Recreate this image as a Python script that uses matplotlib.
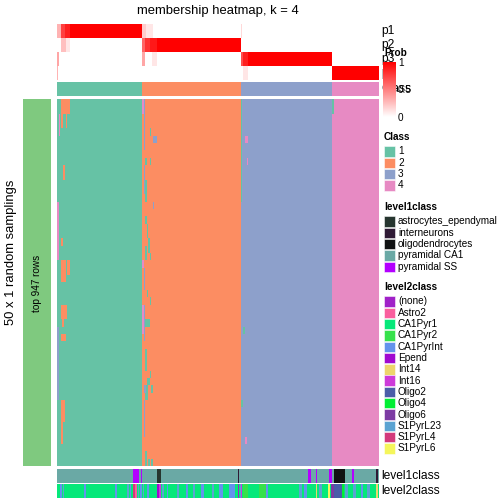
import numpy as np
import matplotlib
matplotlib.use("Agg")
import matplotlib.pyplot as plt
from matplotlib.colors import ListedColormap, LinearSegmentedColormap
from matplotlib.patches import Rectangle

plt.rcParams['font.family'] = ['Liberation Sans', 'DejaVu Sans']

W = H = 504

# consensus classes, number of samples (columns) in each
class_sizes = [85, 99, 91, 47]
class_colors = ["#66C2A5", "#FC8D62", "#8DA0CB", "#E78AC3"]
class_names = ["1", "2", "3", "4"]

# membership probabilities, segments (col_start, col_end, value), rest = 0
p1_segments = [(0, 4, 0.3), (4, 8, 0.75), (8, 13, 0.88), (13, 85, 1.0),
               (85, 89, 0.2), (89, 96, 0.1), (184, 185, 0.15)]
p2_segments = [(4, 9, 0.25), (9, 13, 0.1), (85, 88, 0.6), (88, 93, 0.8),
               (93, 100, 0.9), (100, 184, 1.0)]
p3_segments = [(0, 2, 0.35), (85, 88, 0.35), (95, 100, 0.1),
               (184, 186, 0.7), (186, 191, 0.88), (191, 275, 1.0)]
p4_segments = [(0, 1, 0.3), (186, 191, 0.1), (275, 322, 1.0)]

# 50 random samplings: class calls that differ from the consensus
# (row_start, row_end, col_start, col_end, class)
deviations = [
    (0, 2, 4, 13, 2), (2, 4, 4, 6, 2), (2, 4, 9, 10, 2), (2, 5, 2, 3, 4),
    (9, 11, 6, 8, 2), (14, 22, 0, 2, 4), (19, 20, 4, 6, 2), (22, 25, 4, 9, 2),
    (22, 24, 10, 13, 2), (28, 30, 4, 10, 2), (30, 31, 5, 7, 2), (32, 33, 4, 9, 2),
    (31, 41, 0, 2, 3), (41, 44, 4, 8, 2), (44, 47, 4, 6, 2),
    (0, 2, 85, 87, 4), (0, 4, 87, 88, 3), (4, 7, 87, 88, 3), (4, 5, 93, 94, 1),
    (5, 6, 96, 100, 3), (8, 9, 88, 90, 1), (8, 9, 93, 94, 1), (9, 13, 87, 88, 3),
    (11, 14, 88, 90, 1), (14, 15, 96, 97, 3), (16, 17, 88, 90, 1),
    (17, 19, 90, 91, 1), (19, 21, 91, 93, 1), (20, 22, 88, 90, 1),
    (21, 22, 93, 94, 1), (22, 23, 85, 87, 4), (23, 26, 87, 88, 3),
    (26, 27, 90, 91, 1), (27, 28, 93, 94, 1), (28, 32, 85, 87, 4),
    (28, 32, 87, 88, 3), (30, 31, 88, 93, 1), (32, 33, 87, 88, 3),
    (34, 37, 88, 90, 1), (37, 38, 93, 94, 1), (38, 39, 90, 93, 1),
    (39, 40, 87, 89, 3), (39, 40, 89, 91, 1), (39, 40, 94, 96, 1),
    (40, 41, 88, 91, 1), (41, 46, 87, 88, 3), (48, 50, 88, 90, 1),
    (49, 50, 91, 93, 1), (49, 50, 94, 96, 1),
    (0, 14, 184, 185, 1), (5, 6, 188, 191, 4), (8, 9, 190, 191, 4),
    (31, 32, 186, 188, 1), (41, 42, 184, 186, 1), (46, 47, 188, 190, 4),
    (0, 2, 275, 277, 1),
]
n_samplings = 50

level1_names = ["astrocytes_ependymal", "interneurons", "oligodendrocytes",
                "pyramidal CA1", "pyramidal SS"]
level1_colors = ["#26352F", "#2F1A35", "#111213", "#6AA9A5", "#B300FF"]
level1_default = "pyramidal CA1"
level1_segments = [
    (76, 82, "pyramidal SS"), (84, 85, "pyramidal SS"),
    (100, 104, "astrocytes_ependymal"), (181, 182, "interneurons"),
    (251, 254, "pyramidal SS"), (259, 260, "pyramidal SS"),
    (272, 275, "pyramidal SS"), (277, 288, "oligodendrocytes"),
    (295, 297, "pyramidal SS"), (319, 321, "interneurons"),
]

level2_names = ["(none)", "Astro2", "CA1Pyr1", "CA1Pyr2", "CA1PyrInt", "Epend",
                "Int14", "Int16", "Oligo2", "Oligo4", "Oligo6", "S1PyrL23",
                "S1PyrL4", "S1PyrL6"]
level2_colors = ["#A021C8", "#F95F9E", "#05E87A", "#36E14B", "#6393EC", "#A10AD0",
                 "#EDD56C", "#CD3AD9", "#4A5DA8", "#02EE34", "#7C3BA3", "#5BA3D2",
                 "#D33A7C", "#F5F65B"]
level2_default = "CA1Pyr1"
level2_segments = [
    (3, 5, "CA1PyrInt"), (6, 7, "S1PyrL23"), (27, 29, "CA1PyrInt"),
    (58, 60, "CA1PyrInt"), (70, 72, "S1PyrL23"), (73, 74, "CA1PyrInt"),
    (76, 78, "S1PyrL4"), (78, 80, "Astro2"), (81, 82, "S1PyrL23"),
    (83, 85, "CA1PyrInt"), (86, 87, "S1PyrL23"), (90, 92, "CA1PyrInt"),
    (100, 102, "Epend"), (102, 104, "Int16"), (105, 107, "S1PyrL23"),
    (110, 111, "CA1PyrInt"), (120, 122, "S1PyrL23"), (129, 131, "CA1PyrInt"),
    (136, 138, "S1PyrL23"), (144, 147, "CA1PyrInt"), (155, 157, "S1PyrL23"),
    (162, 166, "CA1PyrInt"), (172, 178, "CA1PyrInt"), (181, 182, "(none)"),
    (183, 184, "S1PyrL23"), (184, 185, "Int16"), (186, 191, "CA1Pyr2"),
    (202, 209, "CA1Pyr2"), (209, 211, "CA1PyrInt"), (242, 245, "S1PyrL23"),
    (247, 250, "CA1PyrInt"), (259, 260, "Int14"), (262, 265, "S1PyrL23"),
    (271, 273, "S1PyrL6"), (274, 277, "Oligo6"), (277, 285, "Oligo2"),
    (285, 287, "Oligo4"), (288, 291, "S1PyrL23"), (296, 299, "S1PyrL23"),
    (304, 306, "CA1PyrInt"), (310, 313, "S1PyrL23"), (319, 321, "Int14"),
]

n_cols = sum(class_sizes)
consensus = np.repeat(np.arange(1, 5), class_sizes)


def fill_segments(segments, default=0.0):
    row = np.full(n_cols, default, dtype=float)
    for start, end, val in segments:
        row[start:end] = val
    return row


def px_axes(x0, y0, x1, y1):
    ax = fig.add_axes([x0 / W, 1 - y1 / H, (x1 - x0) / W, (y1 - y0) / H])
    ax.set_axis_off()
    return ax


probs = np.vstack([fill_segments(s) for s in
                   [p1_segments, p2_segments, p3_segments, p4_segments]])

member = np.tile(consensus, (n_samplings, 1))
for r0, r1, c0, c1, k in deviations:
    member[r0:r1, c0:c1] = k

lvl1 = np.full(n_cols, level1_names.index(level1_default))
for c0, c1, name in level1_segments:
    lvl1[c0:c1] = level1_names.index(name)
lvl2 = np.full(n_cols, level2_names.index(level2_default))
for c0, c1, name in level2_segments:
    lvl2[c0:c1] = level2_names.index(name)

prob_cmap = LinearSegmentedColormap.from_list("prob", ["#FFFFFF", "#FF0000"])
class_cmap = ListedColormap(class_colors)

fig = plt.figure(figsize=(7, 7), dpi=72)

hx0, hx1 = 57, 379
ax = px_axes(hx0, 24, hx1, 80)
ax.imshow(probs, cmap=prob_cmap, vmin=0, vmax=1, aspect="auto", interpolation="nearest")
ax = px_axes(hx0, 82, hx1, 96)
ax.imshow(consensus[None, :], cmap=class_cmap, vmin=0.5, vmax=4.5, aspect="auto",
          interpolation="nearest")
ax = px_axes(hx0, 99, hx1, 466)
ax.imshow(member, cmap=class_cmap, vmin=0.5, vmax=4.5, aspect="auto", interpolation="nearest")
ax = px_axes(hx0, 469, hx1, 483)
ax.imshow(lvl1[None, :], cmap=ListedColormap(level1_colors), vmin=-0.5,
          vmax=len(level1_names) - 0.5, aspect="auto", interpolation="nearest")
ax = px_axes(hx0, 484, hx1, 498)
ax.imshow(lvl2[None, :], cmap=ListedColormap(level2_colors), vmin=-0.5,
          vmax=len(level2_names) - 0.5, aspect="auto", interpolation="nearest")

# overlay in pixel coordinates for texts and legends
ov = fig.add_axes([0, 0, 1, 1], facecolor="none")
ov.set_axis_off()

ov.add_patch(Rectangle((23, 99), 28, 367, facecolor="#7FC97F", edgecolor="none"))
ov.text(37, 283, "top 947 rows", rotation=90, ha="center", va="center", fontsize=10)
ov.text(11, 252, "50 x 1 random samplings", rotation=90, ha="center", va="center",
        fontsize=13)
ov.text(218, 11, "membership heatmap, k = 4", ha="center", va="center", fontsize=13)

for label, y in zip(["p1", "p2", "p3", "p4", "Class"], [31, 45, 59, 73, 89]):
    ov.text(381, y, label, ha="left", va="center", fontsize=12)
ov.text(381, 476, "level1class", ha="left", va="center", fontsize=12)
ov.text(381, 491, "level2class", ha="left", va="center", fontsize=12)

# Prob colour bar
ov.text(384, 53, "Prob", ha="left", va="center", fontsize=10, fontweight="bold")
ov.imshow(np.linspace(1, 0, 200)[:, None], extent=[383, 396, 117, 62], cmap=prob_cmap,
          vmin=0, vmax=1, aspect="auto", zorder=3)
for v, y in [("1", 63), ("0.5", 90), ("0", 118)]:
    ov.text(398, y, v, ha="left", va="center", fontsize=10, zorder=4)


def legend_block(title, names, colors, y_title):
    ov.text(384, y_title, title, ha="left", va="center", fontsize=10, fontweight="bold")
    for i, (n, c) in enumerate(zip(names, colors)):
        yc = y_title + 14.5 + i * 11.3
        ov.add_patch(Rectangle((384, yc - 5.2), 11, 10.4, facecolor=c,
                               edgecolor="#FFFFFF", linewidth=0.5))
        ov.text(398, yc, n, ha="left", va="center", fontsize=10)


legend_block("Class", class_names, class_colors, 137)
legend_block("level1class", level1_names, level1_colors, 207)
legend_block("level2class", level2_names, level2_colors, 287)

ov.set_xlim(0, W)
ov.set_ylim(H, 0)

fig.savefig("out.png", dpi=72)
